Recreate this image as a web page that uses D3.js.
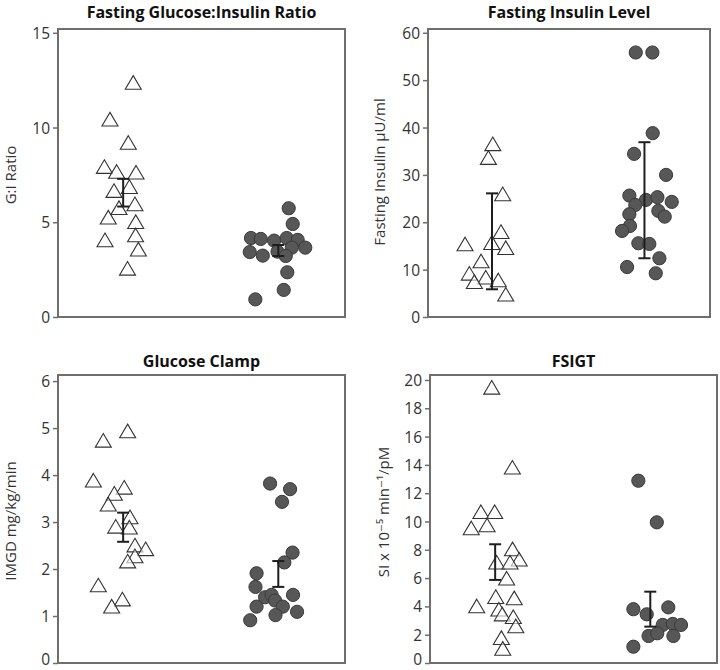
<!DOCTYPE html>
<html>
<head>
<meta charset="utf-8">
<script src="https://cdn.jsdelivr.net/npm/d3@7"></script>
<style>
  html, body { margin: 0; padding: 0; background: #fff; }
  svg { display: block; font-family: "Open Sans", "DejaVu Sans", sans-serif; }
</style>
</head>
<body>
<svg id="chart" width="720" height="670"></svg>
<script>
// ---------- DATA ----------
const titles = ["Fasting Glucose:Insulin Ratio", "Fasting Insulin Level", "Glucose Clamp", "FSIGT"];
const yLabels = ["G:I Ratio", "Fasting Insulin \u03BCU/ml", "IMGD mg/kg/min", "SI x 10\u207B\u2075 min\u207B\u00B9/pM"];
const yTickMax = [15, 60, 6, 20];
const yTickStep = [5, 10, 1, 2];
const yAxisTop = [15.2, 60.8, 6.13, 20.35];

// points: [horizontal jitter position (group 1 or 2 centre), value]
const giOpen = [[1.065,12.38],[0.915,10.44],[1.033,9.21],[0.879,7.94],[0.958,7.68],[1.083,7.64],[1.040,6.88],[0.941,6.67],[0.973,5.77],[1.076,5.97],[0.904,5.27],[1.081,5.03],[1.080,4.33],[0.883,4.07],[1.098,3.58],[1.028,2.57]];
const giFilled = [[2.067,5.74],[2.093,4.91],[1.824,4.17],[1.887,4.12],[1.973,4.03],[2.054,4.17],[2.125,4.07],[1.816,3.43],[1.900,3.24],[1.995,3.45],[2.087,3.66],[2.174,3.66],[2.048,3.22],[2.058,2.36],[2.035,1.43],[1.852,0.93]];
const giErrOpen = [5.83, 7.29];
const giErrFilled = [3.22, 3.80];

const insOpen = [[1.005,36.55],[0.976,33.66],[1.070,25.99],[1.059,18.02],[0.998,15.70],[0.823,15.42],[1.090,14.64],[0.928,11.83],[0.851,9.23],[0.959,8.39],[1.041,7.82],[0.884,7.46],[1.090,4.80]];
const insFilled = [[1.943,55.84],[2.052,55.84],[2.054,38.81],[1.932,34.44],[2.142,30.0],[1.901,25.63],[2.010,24.72],[2.085,25.29],[2.179,24.30],[1.940,23.66],[2.091,22.40],[2.133,21.19],[1.901,21.70],[1.905,19.23],[1.853,18.17],[1.960,15.57],[2.032,15.42],[2.098,12.40],[1.886,10.56],[2.074,9.23]];
const insErrOpen = [5.85, 26.1];
const insErrFilled = [12.4, 36.9];

const clampOpen = [[1.029,4.94],[0.872,4.74],[0.808,3.89],[1.007,3.74],[0.943,3.61],[0.904,3.38],[1.044,3.11],[0.952,2.91],[1.040,2.89],[1.076,2.51],[1.145,2.43],[1.076,2.28],[1.029,2.17],[0.840,1.66],[0.995,1.36],[0.926,1.21]];
const clampFilled = [[1.947,3.82],[2.076,3.70],[2.024,3.43],[2.092,2.35],[2.039,2.14],[1.860,1.91],[1.853,1.62],[1.915,1.40],[1.957,1.45],[1.979,1.33],[2.095,1.45],[1.860,1.20],[2.029,1.20],[1.982,1.02],[2.121,1.09],[1.819,0.91]];
const clampErrOpen = [2.58, 3.20];
const clampErrFilled = [1.62, 2.17];

const fsigtOpen = [[0.978,19.48],[1.111,13.83],[0.908,10.69],[0.997,10.69],[0.846,9.54],[0.948,9.75],[1.112,8.06],[1.155,7.33],[1.010,7.12],[1.096,7.12],[1.074,5.99],[1.004,4.69],[1.123,4.60],[0.881,4.03],[1.024,3.80],[1.046,3.46],[1.117,3.27],[1.133,2.62],[1.040,1.79],[1.049,1.03]];
const fsigtFilled = [[1.923,12.88],[2.042,9.94],[1.891,3.80],[2.116,3.93],[1.977,3.44],[2.080,2.69],[2.145,2.76],[2.198,2.69],[1.989,1.91],[2.045,2.10],[2.149,1.91],[1.891,1.15]];
const fsigtErrOpen = [5.87, 8.39];
const fsigtErrFilled = [2.57, 5.04];

const openSets = [giOpen, insOpen, clampOpen, fsigtOpen];
const filledSets = [giFilled, insFilled, clampFilled, fsigtFilled];
const errOpenSets = [giErrOpen, insErrOpen, clampErrOpen, fsigtErrOpen];
const errFilledSets = [giErrFilled, insErrFilled, clampErrFilled, fsigtErrFilled];

// ---------- LAYOUT ----------
const frames = [
  {left: 58, right: 345, top: 29, bottom: 317, titleY: 17.5, labelX: 15.5, labelY: 175},
  {left: 428, right: 710, top: 29, bottom: 317, titleY: 17.5, labelX: 384.5, labelY: 172},
  {left: 58, right: 345, top: 375, bottom: 663, titleY: 367, labelX: 16, labelY: 521},
  {left: 430, right: 717, top: 375, bottom: 663, titleY: 367, labelX: 388.5, labelY: 512}
];

const svg = d3.select("#chart");
svg.append("rect").attr("width", 720).attr("height", 670).attr("fill", "#fff");

const triW = 16, triH = 13.6;
function triPath(cx, cy) {
  return `M${cx},${cy - triH/2}L${cx + triW/2},${cy + triH/2}L${cx - triW/2},${cy + triH/2}Z`;
}

frames.forEach((f, i) => {
  const g = svg.append("g");
  const x = d3.scaleLinear().domain([0.58, 2.43]).range([f.left, f.right]);
  const y = d3.scaleLinear().domain([0, yAxisTop[i]]).range([f.bottom, f.top]);

  // frame
  g.append("rect")
    .attr("x", f.left).attr("y", f.top)
    .attr("width", f.right - f.left).attr("height", f.bottom - f.top)
    .attr("fill", "none").attr("stroke", "#6e6e6e").attr("stroke-width", 2);

  // axis
  const ticks = d3.range(0, yTickMax[i] + yTickStep[i] / 2, yTickStep[i]);
  const ax = g.append("g")
    .attr("transform", `translate(${f.left},0)`)
    .call(d3.axisLeft(y).tickValues(ticks).tickSize(5).tickPadding(3).tickFormat(d3.format("d")));
  ax.select(".domain").remove();
  ax.selectAll(".tick line").attr("stroke", "#6e6e6e").attr("stroke-width", 1.5);
  ax.selectAll(".tick text")
    .attr("fill", "#333").attr("font-size", 15.5)
    .attr("font-family", "'Open Sans', sans-serif")
    .attr("dy", d => (i >= 2 && d === 0) ? "0.08em" : "0.36em");

  // title
  g.append("text")
    .attr("x", (f.left + f.right) / 2).attr("y", f.titleY)
    .attr("text-anchor", "middle")
    .attr("font-size", 16).attr("font-weight", "bold").attr("fill", "#111")
    .text(titles[i]);

  // y label
  g.append("text")
    .attr("transform", `translate(${f.labelX},${f.labelY}) rotate(-90)`)
    .attr("text-anchor", "middle")
    .attr("font-size", 15).attr("fill", "#333")
    .text(yLabels[i]);

  // filled circles
  g.selectAll("circle.pt").data(filledSets[i]).enter().append("circle")
    .attr("class", "pt")
    .attr("cx", d => x(d[0])).attr("cy", d => y(d[1]))
    .attr("r", 6.6)
    .attr("fill", "#575757").attr("stroke", "#3a3a3a").attr("stroke-width", 1);

  // open triangles
  g.selectAll("path.tri").data(openSets[i]).enter().append("path")
    .attr("class", "tri")
    .attr("d", d => triPath(x(d[0]), y(d[1])))
    .attr("fill", "#fff").attr("fill-opacity", 0.6)
    .attr("stroke", "#333").attr("stroke-width", 1.1);

  // error bars
  const bars = [{gx: 1, r: errOpenSets[i]}, {gx: 2, r: errFilledSets[i]}];
  bars.forEach(b => {
    const cx = x(b.gx);
    const eg = g.append("g").attr("stroke", "#1e1e1e").attr("stroke-width", 2);
    eg.append("line").attr("x1", cx).attr("x2", cx).attr("y1", y(b.r[0])).attr("y2", y(b.r[1]));
    b.r.forEach(v => {
      eg.append("line").attr("x1", cx - 6).attr("x2", cx + 6).attr("y1", y(v)).attr("y2", y(v));
    });
  });
});
</script>
</body>
</html>
